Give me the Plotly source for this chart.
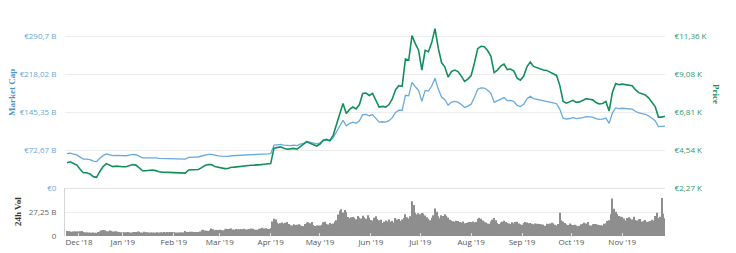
import pandas as pd
import plotly.graph_objects as go

# ---- data (EUR) ----
line_dates = pd.date_range("2018-11-28", periods=183, freq="2D")
price_eur = [
    3780, 3840, 3740, 3640, 3390, 3180, 3180, 3110, 2950, 2910,
    3260, 3550, 3730, 3640, 3550, 3580, 3550, 3540, 3540, 3610,
    3670, 3640, 3450, 3300, 3300, 3320, 3350, 3310, 3240, 3220,
    3210, 3200, 3190, 3170, 3150, 3150, 3160, 3350, 3350, 3360,
    3380, 3490, 3610, 3670, 3670, 3550, 3510, 3460, 3430, 3440,
    3510, 3520, 3550, 3570, 3580, 3610, 3630, 3640, 3640, 3670,
    3690, 3700, 3730, 4650, 4690, 4730, 4650, 4590, 4610, 4640,
    4590, 4740, 4840, 5040, 4940, 4840, 4780, 4900, 5130, 5180,
    5100, 5420, 6080, 6770, 7320, 6720, 6970, 7110, 6990, 7260,
    7920, 7950, 7800, 7920, 7470, 7110, 7150, 7110, 7260, 7590,
    8150, 8390, 8350, 9980, 9920, 11380, 10900, 10510, 9320, 10500,
    10420, 10960, 11800, 10630, 9770, 9500, 8900, 9230, 9320, 9230,
    8960, 8640, 8780, 8990, 9740, 10600, 10740, 10720, 10490, 10160,
    9170, 9320, 9560, 9680, 9350, 9380, 9260, 8840, 8720, 8960,
    9530, 9800, 9540, 9470, 9370, 9320, 9300, 9200, 9100, 9000,
    8390, 7440, 7340, 7410, 7510, 7390, 7420, 7510, 7610, 7580,
    7540, 7380, 7300, 7320, 7440, 6870, 8000, 8520, 8450, 8480,
    8450, 8450, 8380, 8150, 7970, 7900, 7830, 7660, 7430, 7140,
    6510, 6510, 6560,
]
market_cap_b = [
    65.7, 66.8, 65.0, 63.3, 59.0, 55.3, 55.3, 54.1, 51.3, 50.6,
    56.8, 61.9, 65.0, 63.5, 61.9, 62.4, 61.9, 61.7, 61.7, 63.0,
    64.1, 63.6, 60.2, 57.6, 57.6, 58.0, 58.5, 57.8, 56.6, 56.3,
    56.2, 56.0, 55.8, 55.5, 55.2, 55.2, 55.4, 58.7, 58.7, 58.9,
    59.3, 61.2, 63.3, 64.4, 64.4, 62.3, 61.6, 60.8, 60.2, 60.4,
    61.7, 61.9, 62.4, 62.8, 62.9, 63.5, 63.9, 64.1, 64.1, 64.6,
    65.0, 65.2, 65.7, 81.9, 82.6, 83.3, 81.9, 80.9, 81.2, 81.8,
    81.0, 83.7, 85.4, 89.0, 87.2, 85.4, 84.4, 86.5, 90.6, 91.5,
    90.2, 95.8, 107.5, 119.7, 129.5, 118.9, 123.3, 125.8, 123.7, 128.5,
    140.3, 140.9, 138.2, 140.3, 132.4, 126.0, 126.7, 126.0, 128.7, 134.5,
    144.7, 149.0, 148.3, 177.3, 176.2, 202.1, 193.6, 186.7, 165.6, 186.6,
    185.4, 195.0, 209.9, 189.1, 173.8, 169.0, 158.3, 164.2, 165.8, 164.2,
    159.8, 154.0, 156.5, 160.3, 173.7, 189.0, 191.5, 191.1, 187.0, 181.2,
    163.9, 166.6, 170.8, 173.0, 167.1, 167.6, 165.5, 158.0, 155.8, 160.1,
    170.7, 175.5, 170.9, 169.6, 167.8, 166.9, 166.6, 164.8, 163.0, 161.2,
    150.5, 133.5, 131.7, 132.9, 134.7, 132.6, 133.1, 134.7, 136.5, 136.0,
    135.6, 132.7, 131.3, 131.6, 133.8, 123.5, 143.8, 153.2, 151.9, 152.5,
    152.2, 152.2, 150.9, 146.8, 143.5, 142.3, 141.0, 138.0, 133.8, 128.6,
    117.5, 117.5, 118.4,
]

vol_dates = pd.date_range("2018-11-28", "2019-11-27", freq="D")
vol_nov18 = [5.8, 5.5, 5.2]
vol_dec18 = [4.9, 5.1, 5.3, 5.0, 5.2, 5.4, 5.6, 4.6, 4.2, 4.0, 3.9, 4.1, 3.8, 3.9, 3.6, 3.5,
             4.6, 5.0, 6.3, 6.8, 6.5, 5.4, 5.3, 6.2, 5.6, 5.0, 5.2, 5.5, 4.8, 4.4, 4.3]
vol_jan19 = [4.0, 4.3, 4.2, 4.4, 3.9, 4.1, 4.3, 4.6, 4.4, 5.2, 4.8, 3.9, 3.8, 4.7, 4.2, 4.3,
             4.1, 4.0, 4.1, 3.9, 3.8, 4.2, 4.1, 4.2, 4.1, 4.4, 4.0, 4.6, 4.3, 4.5, 4.4]
vol_feb19 = [4.2, 4.0, 4.1, 4.1, 4.0, 4.3, 4.1, 5.6, 4.6, 4.5, 4.7, 4.9, 4.6, 4.5, 4.6, 4.4,
             5.0, 6.6, 7.2, 6.2, 6.0, 5.7, 6.4, 8.5, 7.6, 6.4, 7.0, 6.9]
vol_mar19 = [7.1, 6.8, 6.6, 7.5, 8.3, 8.0, 8.1, 8.4, 7.5, 7.0, 7.9, 7.8, 7.6, 7.9, 7.7, 8.2,
             7.3, 7.8, 8.0, 8.4, 8.3, 7.5, 7.1, 7.0, 8.3, 8.6, 9.2, 8.5, 8.9, 8.2, 7.9]
vol_apr19 = [9.2, 16.5, 19.5, 18.6, 15.2, 14.0, 14.6, 15.3, 14.2, 15.0, 15.8, 13.6, 12.1, 11.8,
             13.2, 12.6, 12.9, 13.4, 12.5, 11.4, 11.2, 13.6, 15.1, 15.7, 14.6, 15.8, 12.4, 11.3,
             11.8, 11.9]
vol_may19 = [12.0, 12.8, 15.6, 16.3, 13.8, 13.1, 14.9, 13.7, 14.2, 16.5, 17.8, 24.3, 28.6, 30.5,
             26.8, 29.4, 27.1, 21.6, 20.2, 21.3, 21.5, 20.6, 18.9, 22.6, 21.1, 19.8, 22.9, 21.4,
             19.5, 23.5, 20.8]
vol_jun19 = [18.1, 17.4, 20.6, 22.4, 19.3, 17.8, 18.5, 14.9, 16.2, 17.5, 16.4, 18.6, 16.3, 17.1,
             15.2, 20.4, 18.7, 19.4, 17.0, 18.8, 20.5, 24.6, 21.3, 19.8, 22.4, 39.5, 35.2, 26.4,
             24.5, 25.8]
vol_jul19 = [24.8, 26.1, 25.5, 23.2, 21.4, 19.6, 17.9, 20.8, 23.7, 31.2, 27.6, 22.4, 20.1, 23.5,
             22.8, 24.6, 22.9, 21.1, 18.5, 17.4, 16.8, 16.2, 17.3, 16.9, 15.8, 15.2, 16.6, 14.3,
             14.8, 15.4, 15.9]
vol_aug19 = [15.8, 16.4, 15.2, 15.9, 19.4, 20.8, 19.6, 17.5, 16.1, 15.3, 14.2, 14.0, 16.5, 18.6,
             20.4, 17.9, 14.8, 13.6, 15.4, 16.1, 17.2, 15.9, 14.8, 14.1, 13.5, 15.7, 14.6, 16.0,
             16.3, 14.2, 13.4]
vol_sep19 = [12.8, 14.9, 15.8, 15.3, 14.6, 14.9, 13.8, 13.2, 14.1, 13.9, 13.7, 13.5, 13.0, 12.9,
             11.6, 13.8, 13.5, 14.2, 15.1, 14.3, 12.7, 11.9, 13.6, 26.3, 17.8, 16.4, 14.9, 13.2,
             12.6, 14.1]
vol_oct19 = [13.1, 12.4, 12.8, 11.9, 11.2, 11.6, 13.4, 13.9, 15.2, 14.1, 15.8, 12.3, 12.0, 13.2,
             13.5, 13.6, 12.9, 12.4, 12.2, 11.8, 13.9, 14.5, 17.2, 17.8, 24.6, 42.5, 31.0, 27.4,
             25.1, 22.6, 21.9]
vol_nov19 = [21.5, 19.8, 17.6, 20.3, 21.4, 19.9, 18.7, 21.8, 18.1, 17.6, 18.9, 19.4, 16.5, 17.2,
             18.3, 16.1, 16.4, 16.9, 18.5, 17.6, 22.8, 26.5, 20.4, 21.8, 43.1, 25.4, 20.2]
volume_b = (vol_nov18 + vol_dec18 + vol_jan19 + vol_feb19 + vol_mar19 + vol_apr19 + vol_may19
            + vol_jun19 + vol_jul19 + vol_aug19 + vol_sep19 + vol_oct19 + vol_nov19)

mcap_ticks = [0, 72.675, 145.35, 218.025, 290.7]
mcap_labels = ["€0", "€72,67 B", "€145,35 B", "€218,02 B", "€290,7 B"]
price_ticks = [2271.3, 4542.6, 6813.9, 9085.2, 11356.5]
price_labels = ["€2,27 K", "€4,54 K", "€6,81 K", "€9,08 K", "€11,36 K"]
vol_ticks = [0, 27.25]
vol_labels = ["0", "27,25 B"]
# first label is nudged right (justified inside the plot, as in the original)
month_ticks = [pd.Timestamp("2018-12-05 07:00")] + list(pd.date_range("2019-01-01", "2019-11-01", freq="MS"))
month_labels = ["Dec '18", "Jan '19", "Feb '19", "Mar '19", "Apr '19", "May '19", "Jun '19",
                "Jul '19", "Aug '19", "Sep '19", "Oct '19", "Nov '19"]

# ---- style ----
BLUE_LINE = "#6aaadc"
GREEN_LINE = "#138f5c"
BLUE_TXT = "#6ba6d6"
GREEN_TXT = "#2a9a6e"
GRID = "#ececec"
TICK_FONT = "Open Sans"
TITLE_FONT = "Liberation Serif"

W, H = 736, 253
ML, MR, MT, MB = 65, 71, 20, 17
plot_h = H - MT - MB
split = (H - MB - 188) / plot_h  # volume panel top at y=188 px

fig = go.Figure()
fig.add_trace(go.Bar(x=vol_dates, y=volume_b, yaxis="y3", marker=dict(color="#8e8e8e", line=dict(width=0)),
                     name="24h Vol"))
fig.add_trace(go.Scatter(x=line_dates, y=market_cap_b, yaxis="y", mode="lines",
                         line=dict(color=BLUE_LINE, width=1.3), name="Market Cap"))
fig.add_trace(go.Scatter(x=line_dates, y=price_eur, yaxis="y2", mode="lines",
                         line=dict(color=GREEN_LINE, width=1.6), name="Price"))

mc_top = 72.675 * 168 / 38
pr_bot = 2271.3
pr_top = pr_bot + 2271.3 * 168 / 38

fig.update_layout(
    width=W, height=H,
    margin=dict(l=ML, r=MR, t=MT, b=MB, pad=0, autoexpand=False),
    paper_bgcolor="white", plot_bgcolor="white",
    showlegend=False, bargap=0.3,
    xaxis=dict(domain=[0, 1], anchor="y3", type="date", automargin=False,
               range=["2018-11-26 19:00", "2019-11-27 00:00"],
               tickvals=month_ticks, ticktext=month_labels,
               tickfont=dict(family=TICK_FONT, size=8, color="#555555"),
               showgrid=False, zeroline=False, showline=False,
               ticks="inside", ticklen=3, tickcolor="#dddddd"),
    yaxis=dict(domain=[split, 1], anchor="x", side="left", range=[0, mc_top], automargin=False,
               tickvals=mcap_ticks, ticktext=mcap_labels,
               tickfont=dict(family=TICK_FONT, size=8, color=BLUE_TXT),
               showgrid=True, gridcolor=GRID, gridwidth=1,
               zeroline=True, zerolinecolor="#e2e2e2", zerolinewidth=1,
               showline=False, ticks="outside", ticklen=6, tickcolor="rgba(0,0,0,0)"),
    yaxis2=dict(overlaying="y", anchor="x", side="right", range=[pr_bot, pr_top], automargin=False,
                tickvals=price_ticks, ticktext=price_labels,
                tickfont=dict(family=TICK_FONT, size=8, color=GREEN_TXT),
                showgrid=False, zeroline=False, showline=False,
                ticks="outside", ticklen=7, tickcolor="rgba(0,0,0,0)"),
    yaxis3=dict(domain=[0, split], anchor="x", side="left", range=[0, 54.5], automargin=False,
                tickvals=vol_ticks, ticktext=vol_labels,
                tickfont=dict(family=TICK_FONT, size=8, color="#666666"),
                showgrid=True, gridcolor=GRID, zeroline=False,
                showline=True, linecolor="#d6d6d6", linewidth=1,
                ticks="outside", ticklen=6, tickcolor="rgba(0,0,0,0)"),
    annotations=[
        dict(text="<b>Market Cap</b>", x=(12 - ML) / 600, y=(H - MB - 93) / plot_h,
             xref="paper", yref="paper", showarrow=False, textangle=-90,
             xanchor="center", yanchor="middle",
             font=dict(family=TITLE_FONT, size=9, color="#4a96d2")),
        dict(text="<b>24h Vol</b>", x=(18 - ML) / 600, y=(H - MB - 212) / plot_h,
             xref="paper", yref="paper", showarrow=False, textangle=-90,
             xanchor="center", yanchor="middle",
             font=dict(family=TITLE_FONT, size=9, color="#333333")),
        dict(text="<b>Price</b>", x=(716 - ML) / 600, y=(H - MB - 94) / plot_h,
             xref="paper", yref="paper", showarrow=False, textangle=90,
             xanchor="center", yanchor="middle",
             font=dict(family=TITLE_FONT, size=9, color="#129060")),
    ],
)

fig.write_html("out.html")
